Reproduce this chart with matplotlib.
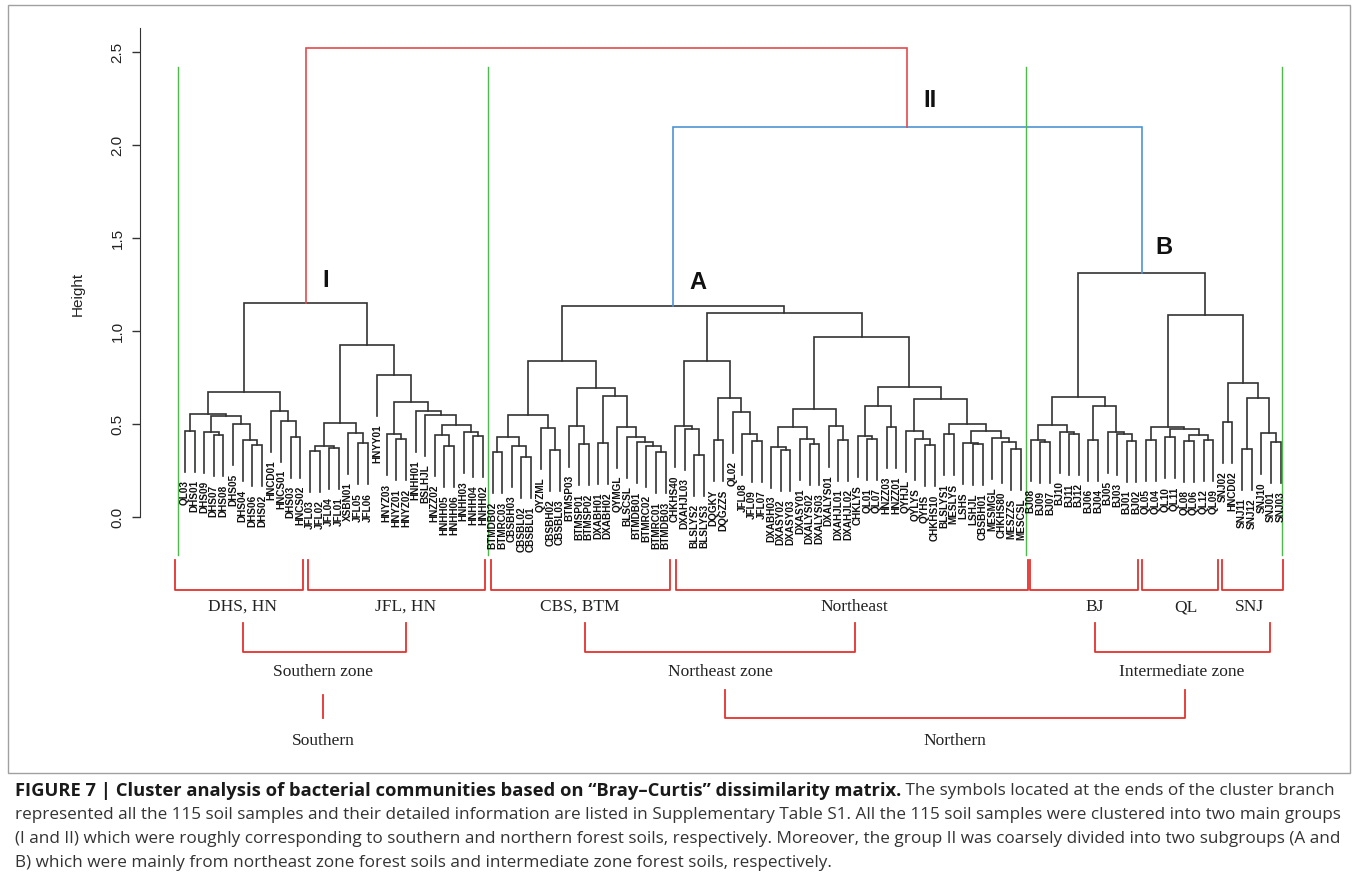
import matplotlib
matplotlib.use("Agg")
import matplotlib.pyplot as plt
from matplotlib.patches import Rectangle

plt.rcParams['font.family'] = ['Liberation Sans', 'DejaVu Sans']

# hclust sub-trees written as (height, left, right); leaves are sample names
south = (0.672,
         (0.552,
          (0.462, 'QL03', 'DHS01'),
          (0.542,
           (0.458, 'DHS09', (0.440, 'DHS07', 'DHS08')),
           (0.500, 'DHS05', (0.414, 'DHS04', (0.387, 'DHS06', 'DHS02'))))),
         (0.570, 'HNCD01', (0.518, 'HNCS01', (0.432, 'DHS03', 'HNCS02'))))

jfl_hn = (0.925,
          (0.504,
           (0.383, (0.355, 'JFL03', 'JFL02'), (0.370, 'JFL04', 'JFL01')),
           (0.450, 'XSBN01', (0.396, 'JFL05', 'JFL06'))),
          (0.763, 'HNYY01',
           (0.620,
            (0.445, 'HNYZ03', (0.418, 'HNYZ01', 'HNYZ02')),
            (0.570, 'HNHH01',
             (0.548, 'BSLHJL',
              (0.495,
               (0.440, 'HNZZ02', (0.383, 'HNHH05', 'HNHH06')),
               (0.459, 'HNHH03', (0.437, 'HNHH04', 'HNHH02'))))))))

cbs_btm = (0.839,
           (0.548,
            (0.432, (0.348, 'BTMDB02', 'BTMRC03'),
             (0.383, 'CBSBH03', (0.324, 'CBSBL02', 'CBSBL01'))),
            (0.477, 'QYZML', (0.360, 'CBSBH02', 'CBSBL03'))),
           (0.692,
            (0.489, 'BTMSP03', (0.390, 'BTMSP01', 'BTMSP02')),
            (0.650,
             (0.396, 'DXABH01', 'DXABH02'),
             (0.486, 'QYMGL',
              (0.432, 'BLSCSL',
               (0.402, 'BTMDB01',
                (0.383, 'BTMRC02', (0.348, 'BTMRC01', 'BTMDB03'))))))))

northeast = (1.098,
             (0.839,
              (0.489, 'CHKHS40', (0.472, 'DXAHJL03', (0.333, 'BLSLYS2', 'BLSLYS3'))),
              (0.638, (0.414, 'DQGKY', 'DQGZZS'),
               (0.566, 'QL02', (0.446, 'JFL08', (0.409, 'JFL09', 'JFL07'))))),
             (0.968,
              (0.580,
               (0.486, (0.378, 'DXABH03', (0.360, 'DXASY02', 'DXASY03')),
                (0.419, 'DXASY01', (0.392, 'DXALYS02', 'DXALYS03'))),
               (0.491, 'DXALYS01', (0.414, 'DXAHJL01', 'DXAHJL02'))),
              (0.700,
               (0.597, (0.435, 'CHKLYS', (0.419, 'QL01', 'QL07')),
                (0.482, 'HNZZ03', 'HNZZ01')),
               (0.633,
                (0.462, 'QYHJL', (0.419, 'QYLYS', (0.387, 'QYHS', 'CHKHS10'))),
                (0.498,
                 (0.445, 'BLSLYS1', 'MESLYS'),
                 (0.462,
                  (0.396, 'LSHS', (0.390, 'LSHJL', 'CBSBH01')),
                  (0.426, 'MESMGL',
                   (0.402, 'CHKHS80', (0.366, 'MESZZS', 'MESCSL')))))))))

bj = (0.647,
      (0.495, (0.414, 'BJ08', (0.405, 'BJ09', 'BJ07')),
       (0.459, 'BJ10', (0.446, 'BJ11', 'BJ12'))),
      (0.597, (0.414, 'BJ06', 'BJ04'),
       (0.459, 'BJ05', (0.446, 'BJ03', (0.410, 'BJ01', 'BJ02')))))

ql = (0.486, (0.414, 'QL05', 'QL04'),
      (0.473, (0.428, 'QL10', 'QL11'),
       (0.441, (0.410, 'QL08', 'QL06'), (0.414, 'QL12', 'QL09'))))

snj = (0.722, (0.510, 'SNJ02', 'HNCD02'),
       (0.638, (0.366, 'SNJ11', 'SNJ12'),
        (0.453, 'SNJ10', (0.405, 'SNJ01', 'SNJ03'))))

group_I = (1.152, south, jfl_hn)
group_A = (1.137, cbs_btm, northeast)
group_B = (1.312, bj, (1.086, ql, snj))
group_II = (2.097, group_A, group_B)
root = (2.522, group_I, group_II)

HANG = 0.22
TREE = '#333333'
RED = '#e5322d'
link_color = {id(root): '#e24a4a', id(group_II): '#4f93d2'}

fig = plt.figure(figsize=(13.58, 8.89), dpi=100)
ax = fig.add_axes([140 / 1358, 1 - 765 / 889, 1160 / 1358, 745 / 889])
ax.set_xlim(1 - 45 / 9.61, 1 + 1115 / 9.61)
ax.set_ylim((517 - 765) / 186, (517 - 20) / 186)

leaves = []
leaf_end = {}


def draw(node):
    if isinstance(node, str):
        leaves.append(node)
        return len(leaves), None
    h, a, b = node
    xa, ha = draw(a)
    xb, hb = draw(b)
    if ha is None:
        ha = h - HANG
        leaf_end[xa] = ha
    if hb is None:
        hb = h - HANG
        leaf_end[xb] = hb
    ax.plot([xa, xa, xb, xb], [ha, h, h, hb], color=link_color.get(id(node), TREE),
            lw=1.2, solid_joinstyle='miter', clip_on=False)
    return (xa + xb) / 2, h


draw(root)

for i, name in enumerate(leaves, start=1):
    ax.text(i, leaf_end[i] - 0.045, name, rotation=90, ha='center', va='top',
            fontsize=7.2, fontweight='bold', color='#111')

# axis
for s in ['top', 'right', 'bottom']:
    ax.spines[s].set_visible(False)
ax.spines['left'].set_bounds(0, 2.63)
ax.spines['left'].set_color('#333')
ax.set_xticks([])
ticks = [0, 0.5, 1.0, 1.5, 2.0, 2.5]
ax.set_yticks(ticks)
ax.set_yticklabels(['%.1f' % t for t in ticks], rotation=90, va='center', fontsize=11)
ax.tick_params(axis='y', length=6, width=1, pad=5, colors='#333', labelcolor='#222')
ax.set_ylabel('Height', fontsize=11, color='#222')
ax.yaxis.set_label_coords(-0.048, 0.632)

# group labels on the tree
for txt, x, y in [('I', 15.6, 1.27), ('II', 78.5, 2.24), ('A', 54.4, 1.26), ('B', 102.9, 1.45)]:
    ax.text(x, y, txt, fontsize=17, fontweight='bold', ha='center', va='center', color='#111')

# green separators between the sample regions
for x in [0.3, 32.5, 88.55, 115.1]:
    ax.plot([x, x], [-0.204, 2.42], color='#4cbb4c', lw=1.0, clip_on=False)

# red brackets and region names below the leaves
serif = {'family': 'Liberation Serif', 'fontsize': 12.5, 'color': '#222'}
regions = [('DHS, HN', 0.0, 13.3, 7.0), ('JFL, HN', 13.8, 32.2, 24.0),
           ('CBS, BTM', 32.8, 51.5, 42.1), ('Northeast', 52.1, 88.7, 70.7),
           ('BJ', 88.9, 100.2, 95.7), ('QL', 100.6, 108.5, 105.1),
           ('SNJ', 108.9, 115.3, 111.8)]
for name, x0, x1, xt in regions:
    ax.plot([x0, x0, x1, x1], [-0.231, -0.392, -0.392, -0.231], color=RED, lw=1.3, clip_on=False)
    ax.text(xt, -0.484, name, ha='center', va='center', **serif)

zones = [('Southern zone', 7.0, 24.0, 15.4), ('Northeast zone', 42.6, 70.7, 56.7),
         ('Intermediate zone', 95.7, 113.9, 104.7)]
for name, x0, x1, xt in zones:
    ax.plot([x0, x0, x1, x1], [-0.57, -0.726, -0.726, -0.57], color=RED, lw=1.3, clip_on=False)
    ax.text(xt, -0.833, name, ha='center', va='center', **serif)

ax.plot([15.4, 15.4], [-0.957, -1.08], color=RED, lw=1.3, clip_on=False)
ax.text(15.4, -1.204, 'Southern', ha='center', va='center', **serif)
ax.plot([57.2, 57.2, 105.1, 105.1], [-0.93, -1.08, -1.08, -0.93], color=RED, lw=1.3, clip_on=False)
ax.text(81.1, -1.204, 'Northern', ha='center', va='center', **serif)

# frame around the figure panel
fig.patches.append(Rectangle((8 / 1358, 1 - 773 / 889), 1342 / 1358, 768 / 889,
                             transform=fig.transFigure, fill=False, ec='#a0a0a0', lw=1))

# caption, sized so every full line spans the text block
x0 = 15 / 1358
line_w = 1322
renderer = fig.canvas.get_renderer()
caption = ['represented all the 115 soil samples and their detailed information are listed in '
           'Supplementary Table S1. All the 115 soil samples were clustered into two main groups',
           '(I and II) which were roughly corresponding to southern and northern forest soils, '
           'respectively. Moreover, the group II was coarsely divided into two subgroups (A and',
           'B) which were mainly from northeast zone forest soils and intermediate zone forest '
           'soils, respectively.']
body = []
for k, line in enumerate(caption):
    body.append(fig.text(x0, 1 - (815 + 24 * k) / 889, line, fontsize=10, family='Open Sans',
                         va='center', color='#333'))
tail = fig.text(0, 1 - 791 / 889, ' The symbols located at the ends of the cluster branch',
                fontsize=10, family='Open Sans', va='center', color='#333')
body.append(tail)
size = 10 * line_w / body[0].get_window_extent(renderer).width
for t in body:
    t.set_fontsize(size)

bold = fig.text(x0, 1 - 791 / 889, 'FIGURE 7 | Cluster analysis of bacterial communities based on '
                '\u201cBray\u2013Curtis\u201d dissimilarity matrix.', fontsize=10,
                family='Open Sans', fontweight='bold', va='center', color='#1a1a1a')
bold_w = line_w - tail.get_window_extent(renderer).width
bold.set_fontsize(10 * bold_w / bold.get_window_extent(renderer).width)
tail.set_x(bold.get_window_extent(renderer).x1 / 1358)

fig.savefig('out.png', dpi=100)
